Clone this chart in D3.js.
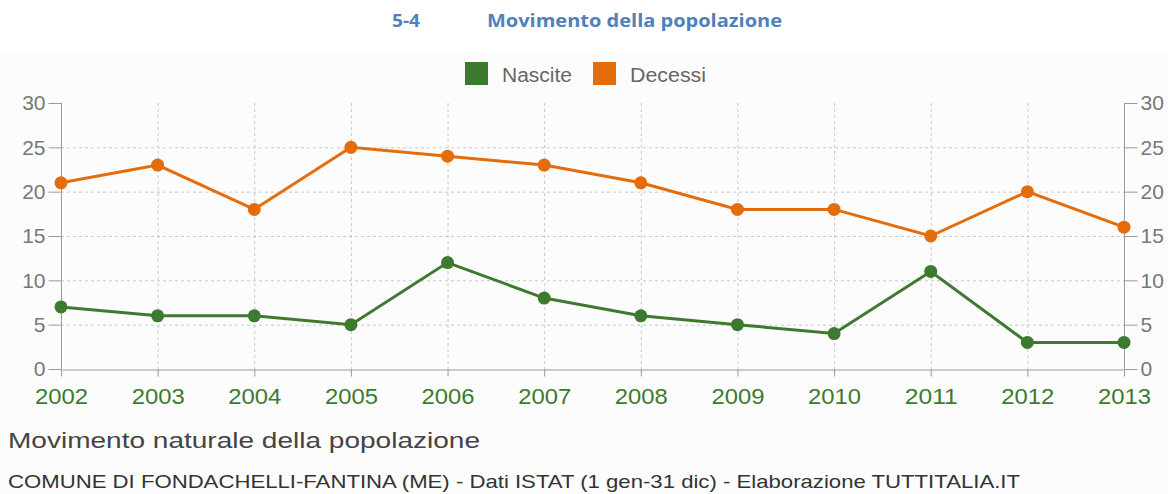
<!DOCTYPE html>
<html>
<head>
<meta charset="utf-8">
<script src="https://d3js.org/d3.v7.min.js"></script>
<style>
  body { margin: 0; background: #fff; }
  svg { display: block; font-family: "Liberation Sans", Arial, sans-serif; }
</style>
</head>
<body>
<div id="chart"></div>
<script>
const years = [2002, 2003, 2004, 2005, 2006, 2007, 2008, 2009, 2010, 2011, 2012, 2013];
const nascite = [7, 6, 6, 5, 12, 8, 6, 5, 4, 11, 3, 3];
const decessi = [21, 23, 18, 25, 24, 23, 21, 18, 18, 15, 20, 16];
const yTicks = [0, 5, 10, 15, 20, 25, 30];
const seriesNames = ["Nascite", "Decessi"];
const seriesColors = ["#3d7a2f", "#e46c0a"];

const width = 1168, height = 494;
const svg = d3.select("#chart").append("svg")
    .attr("width", width)
    .attr("height", height);

// light panel behind chart
svg.append("rect")
    .attr("x", 0).attr("y", 54)
    .attr("width", width).attr("height", height - 54)
    .attr("fill", "#fcfcfc");

// document heading
svg.append("text")
    .attr("x", 392).attr("y", 27)
    .attr("font-family", "'Open Sans', sans-serif")
    .attr("font-weight", "bold")
    .attr("font-size", "18px")
    .attr("fill", "#4f81bd")
    .attr("textLength", 28)
    .attr("lengthAdjust", "spacingAndGlyphs")
    .text("5-4");
svg.append("text")
    .attr("x", 487).attr("y", 27)
    .attr("font-family", "'Open Sans', sans-serif")
    .attr("font-weight", "bold")
    .attr("font-size", "18px")
    .attr("fill", "#4f81bd")
    .attr("textLength", 295)
    .attr("lengthAdjust", "spacingAndGlyphs")
    .text("Movimento della popolazione");

const x = d3.scalePoint().domain(years).range([61, 1124]);
const y = d3.scaleLinear().domain([0, 30]).range([369, 103]);

// grid
const grid = svg.append("g")
    .attr("stroke", "#c8c8c8")
    .attr("stroke-dasharray", "3,3")
    .attr("stroke-width", 1);
grid.selectAll("line.h")
    .data(yTicks.filter(d => d > 0 && d < 30))
    .join("line")
    .attr("x1", 61).attr("x2", 1124)
    .attr("y1", d => y(d) + 0.5).attr("y2", d => y(d) + 0.5);
grid.selectAll("line.v")
    .data(years.slice(1, -1))
    .join("line")
    .attr("x1", d => x(d) + 0.5).attr("x2", d => x(d) + 0.5)
    .attr("y1", y(30)).attr("y2", y(0));

// axes
const axisColor = "#9a9a9a";
const leftAxis = svg.append("g")
    .attr("transform", `translate(${x(2002) + 0.5},0)`)
    .call(d3.axisLeft(y).tickValues(yTicks).tickSize(13).tickPadding(3));
const rightAxis = svg.append("g")
    .attr("transform", `translate(${x(2013) + 0.5},0)`)
    .call(d3.axisRight(y).tickValues(yTicks).tickSize(13).tickPadding(3));
const bottomAxis = svg.append("g")
    .attr("transform", `translate(0,${y(0) + 0.5})`)
    .call(d3.axisBottom(x).tickSize(7).tickPadding(12).tickSizeOuter(0));

[leftAxis, rightAxis].forEach(g => {
    g.select(".domain").attr("stroke", axisColor).attr("d", `M0,${y(30)}V${y(0)}`);
    g.selectAll(".tick line").attr("stroke", axisColor);
    g.selectAll(".tick text")
        .attr("fill", "#777")
        .attr("font-size", "21px")
        .attr("font-family", "'Liberation Sans', Arial, sans-serif");
});
bottomAxis.select(".domain").attr("stroke", axisColor);
bottomAxis.selectAll(".tick line").attr("stroke", axisColor);
bottomAxis.selectAll(".tick text")
    .attr("fill", "#3d7a2f")
    .attr("font-size", "22px")
    .attr("textLength", 53)
    .attr("lengthAdjust", "spacingAndGlyphs")
    .attr("x", -26.5)
    .attr("text-anchor", "start")
    .attr("font-family", "'Liberation Sans', Arial, sans-serif");

// series
const data = [nascite, decessi];
const line = d3.line()
    .x((d, i) => x(years[i]))
    .y(d => y(d));

data.forEach((vals, si) => {
    svg.append("path")
        .datum(vals)
        .attr("fill", "none")
        .attr("stroke", seriesColors[si])
        .attr("stroke-width", 3)
        .attr("d", line);
    svg.append("g")
        .selectAll("circle")
        .data(vals)
        .join("circle")
        .attr("cx", (d, i) => x(years[i]))
        .attr("cy", d => y(d))
        .attr("r", 6.5)
        .attr("fill", seriesColors[si]);
});

// legend
const legendX = [465, 593];
const legendW = [70, 76];
seriesNames.forEach((name, i) => {
    svg.append("rect")
        .attr("x", legendX[i]).attr("y", 62)
        .attr("width", 23).attr("height", 23)
        .attr("fill", seriesColors[i]);
    svg.append("text")
        .attr("x", legendX[i] + 37).attr("y", 82)
        .attr("font-size", "20px")
        .attr("fill", "#666")
        .attr("textLength", legendW[i])
        .attr("lengthAdjust", "spacingAndGlyphs")
        .text(name);
});

// captions
svg.append("text")
    .attr("x", 8).attr("y", 448)
    .attr("font-size", "22px")
    .attr("fill", "#444")
    .attr("textLength", 472)
    .attr("lengthAdjust", "spacingAndGlyphs")
    .text("Movimento naturale della popolazione");
svg.append("text")
    .attr("x", 8).attr("y", 488)
    .attr("font-size", "19px")
    .attr("fill", "#333")
    .attr("textLength", 1012)
    .attr("lengthAdjust", "spacingAndGlyphs")
    .text("COMUNE DI FONDACHELLI-FANTINA (ME) - Dati ISTAT (1 gen-31 dic) - Elaborazione TUTTITALIA.IT");
</script>
</body>
</html>
